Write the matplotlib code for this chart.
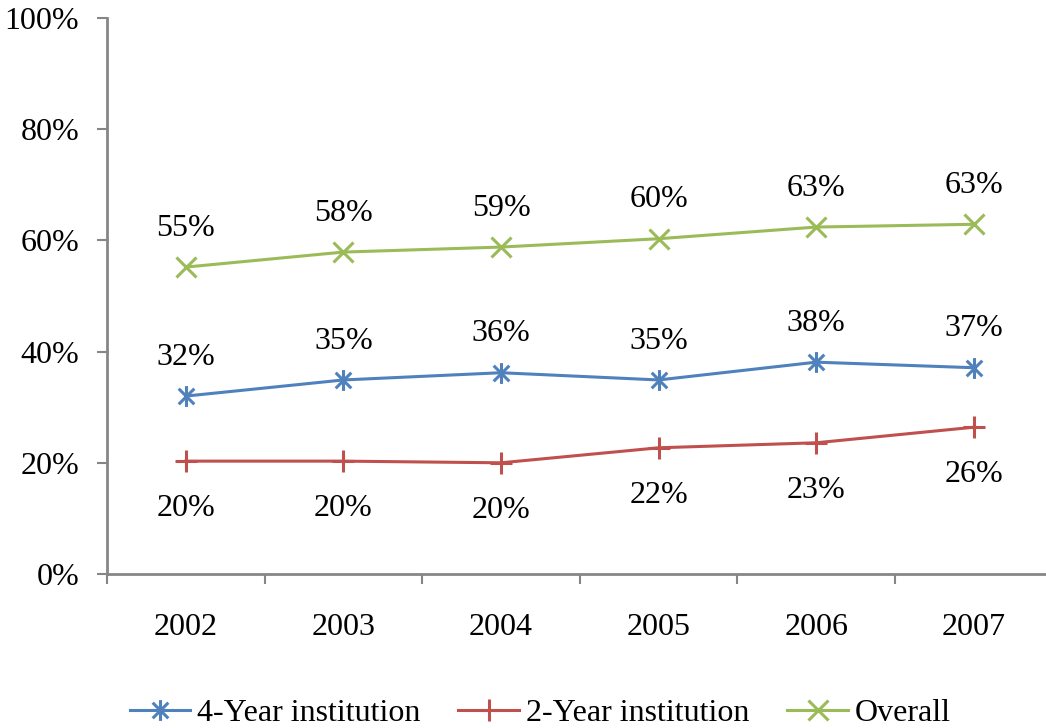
import numpy as np
import matplotlib.pyplot as plt
from matplotlib.path import Path

plt.rcParams['font.family'] = ['Liberation Serif', 'DejaVu Serif']

years = ['2002', '2003', '2004', '2005', '2006', '2007']
four_year = [32.0, 34.9, 36.2, 34.9, 38.1, 37.1]
two_year = [20.3, 20.3, 20.0, 22.7, 23.6, 26.4]
overall = [55.2, 57.9, 58.8, 60.3, 62.4, 62.9]
four_labels = ['32%', '35%', '36%', '35%', '38%', '37%']
two_labels = ['20%', '20%', '20%', '22%', '23%', '26%']
overall_labels = ['55%', '58%', '59%', '60%', '63%', '63%']

# Excel-like star: vertical bar plus an X
star = Path([(0, -1), (0, 1), (-0.75, -0.75), (0.75, 0.75), (-0.75, 0.75), (0.75, -0.75)],
            [Path.MOVETO, Path.LINETO, Path.MOVETO, Path.LINETO, Path.MOVETO, Path.LINETO])

fs = 23
fig = plt.figure(figsize=(10.46, 7.28), dpi=100)
# axes extends past the right edge like the original crop
ax = fig.add_axes([107 / 1046, 1 - 574 / 728, 945.6 / 1046, 556 / 728])

x = np.arange(len(years))
ax.plot(x, four_year, color='#4F81BD', lw=2.2, marker=star, ms=15, mew=2.2,
        label='4-Year institution')
ax.plot(x, two_year, color='#C0504D', lw=2.2, marker='+', ms=16, mew=2.2,
        label='2-Year institution')
ax.plot(x, overall, color='#9BBB59', lw=2.2, marker='x', ms=14, mew=2.2,
        label='Overall')

for i in x:
    ax.annotate(four_labels[i], (i, four_year[i]), xytext=(0, 28), textcoords='offset points',
                ha='center', va='center', fontsize=fs)
    ax.annotate(overall_labels[i], (i, overall[i]), xytext=(0, 28), textcoords='offset points',
                ha='center', va='center', fontsize=fs)
    ax.annotate(two_labels[i], (i, two_year[i]), xytext=(0, -34), textcoords='offset points',
                ha='center', va='center', fontsize=fs)

ax.set_xlim(-0.5, len(years) - 0.5)
ax.set_ylim(0, 100)
ax.set_yticks(np.arange(0, 101, 20))
ax.set_yticklabels([f'{v}%' for v in range(0, 101, 20)], fontsize=fs)
ax.set_xticks(x)
ax.set_xticklabels(years, fontsize=fs)
ax.set_xticks(np.arange(-0.5, len(years), 1), minor=True)
ax.tick_params(axis='x', which='major', length=0, pad=28)
ax.tick_params(axis='x', which='minor', length=7, width=1.5, color='#868686', direction='out')
ax.tick_params(axis='y', length=7, width=1.5, color='#868686', direction='out', pad=13)

for s in ['top', 'right']:
    ax.spines[s].set_visible(False)
for s in ['left', 'bottom']:
    ax.spines[s].set_color('#868686')
    ax.spines[s].set_linewidth(2)

fig.legend(loc='center', bbox_to_anchor=(540 / 1046, 1 - 713 / 728), ncol=3, frameon=False,
           fontsize=fs, handlelength=1.9, columnspacing=1.2, handletextpad=0.2)

fig.savefig('out.png', dpi=100)
